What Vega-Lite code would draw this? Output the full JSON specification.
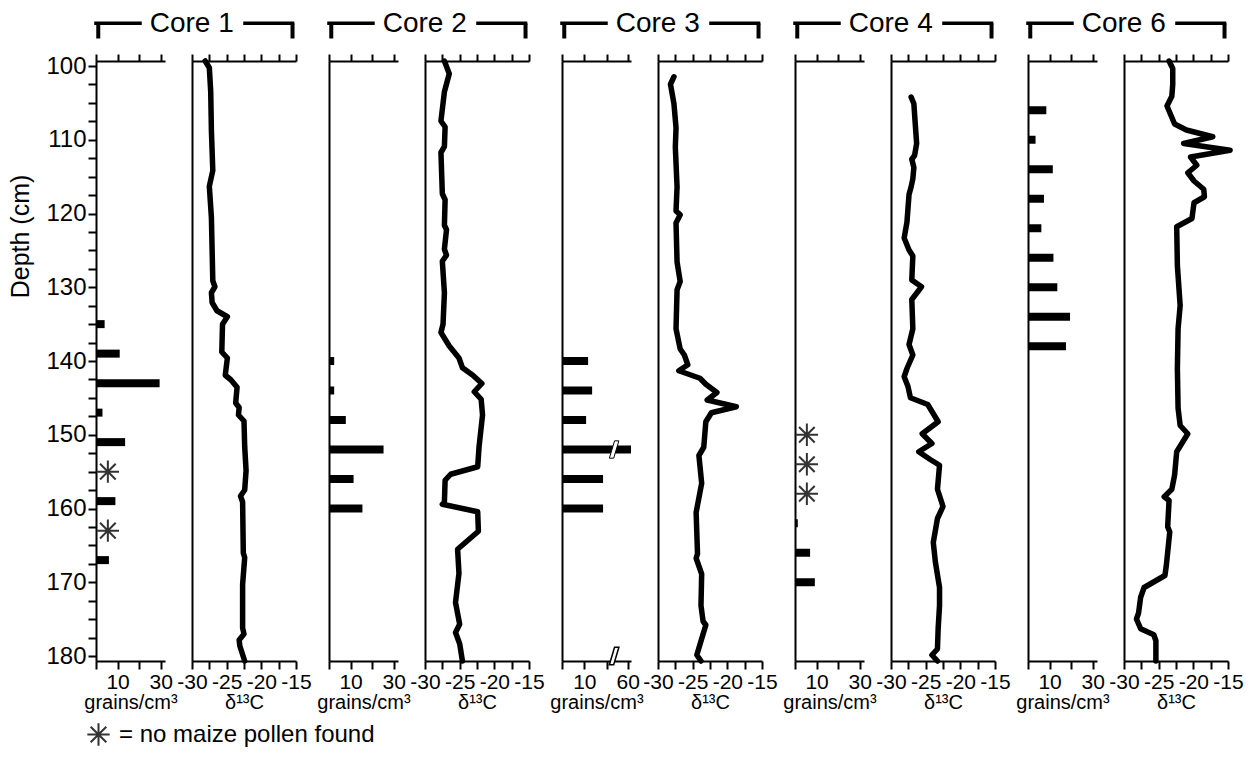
{
  "$schema": "https://vega.github.io/schema/vega-lite/v6.json",
  "background": "white",
  "padding": {"left": 8, "top": 10, "right": 5, "bottom": 5},
  "config": {
    "font": "Liberation Sans",
    "view": {"stroke": null},
    "axis": {"domainColor": "black", "domainWidth": 2, "tickColor": "black", "tickWidth": 2, "grid": false, "labelColor": "black", "titleColor": "black", "titleFontWeight": "normal", "labelFont": "Liberation Sans", "titleFont": "Liberation Sans"}
  },
  "datasets": {
    "pollen": [
      {"core": "Core 1", "depth": 135, "grains": 4},
      {"core": "Core 1", "depth": 139, "grains": 11},
      {"core": "Core 1", "depth": 143, "grains": 29.5},
      {"core": "Core 1", "depth": 147, "grains": 3},
      {"core": "Core 1", "depth": 151, "grains": 13.5},
      {"core": "Core 1", "depth": 155, "note": "no maize pollen found"},
      {"core": "Core 1", "depth": 159, "grains": 9},
      {"core": "Core 1", "depth": 163, "note": "no maize pollen found"},
      {"core": "Core 1", "depth": 167, "grains": 6},
      {"core": "Core 2", "depth": 140, "grains": 2.4},
      {"core": "Core 2", "depth": 144, "grains": 2.4},
      {"core": "Core 2", "depth": 148, "grains": 7.8},
      {"core": "Core 2", "depth": 152, "grains": 25.3},
      {"core": "Core 2", "depth": 156, "grains": 11.4},
      {"core": "Core 2", "depth": 160, "grains": 15.5},
      {"core": "Core 3", "depth": 140, "grains": 11.7},
      {"core": "Core 3", "depth": 144, "grains": 13.5},
      {"core": "Core 3", "depth": 148, "grains": 10.8},
      {"core": "Core 3", "depth": 152, "grains": 61.5},
      {"core": "Core 3", "depth": 156, "grains": 18.4},
      {"core": "Core 3", "depth": 160, "grains": 18.4},
      {"core": "Core 4", "depth": 150, "note": "no maize pollen found"},
      {"core": "Core 4", "depth": 154, "note": "no maize pollen found"},
      {"core": "Core 4", "depth": 158, "note": "no maize pollen found"},
      {"core": "Core 4", "depth": 162, "grains": 1.3},
      {"core": "Core 4", "depth": 166, "grains": 7},
      {"core": "Core 4", "depth": 170, "grains": 9.2},
      {"core": "Core 6", "depth": 106, "grains": 8.5},
      {"core": "Core 6", "depth": 110, "grains": 3.5},
      {"core": "Core 6", "depth": 114, "grains": 11.5},
      {"core": "Core 6", "depth": 118, "grains": 7.4},
      {"core": "Core 6", "depth": 122, "grains": 6.2},
      {"core": "Core 6", "depth": 126, "grains": 11.8},
      {"core": "Core 6", "depth": 130, "grains": 13.6},
      {"core": "Core 6", "depth": 134, "grains": 19.5},
      {"core": "Core 6", "depth": 138, "grains": 17.6}
    ],
    "d13c": [
      {"core": "Core 1", "depth": 100, "d13c": -28.1},
      {"core": "Core 1", "depth": 100.9, "d13c": -27.5},
      {"core": "Core 1", "depth": 104.1, "d13c": -27.3},
      {"core": "Core 1", "depth": 109.3, "d13c": -27.2},
      {"core": "Core 1", "depth": 114.6, "d13c": -27.0},
      {"core": "Core 1", "depth": 116.7, "d13c": -27.5},
      {"core": "Core 1", "depth": 120.9, "d13c": -27.2},
      {"core": "Core 1", "depth": 125.1, "d13c": -27.1},
      {"core": "Core 1", "depth": 129.3, "d13c": -27.0},
      {"core": "Core 1", "depth": 130.1, "d13c": -26.7},
      {"core": "Core 1", "depth": 130.9, "d13c": -27.2},
      {"core": "Core 1", "depth": 132.2, "d13c": -27.1},
      {"core": "Core 1", "depth": 133.3, "d13c": -26.4},
      {"core": "Core 1", "depth": 134.1, "d13c": -24.9},
      {"core": "Core 1", "depth": 135.1, "d13c": -25.6},
      {"core": "Core 1", "depth": 138.8, "d13c": -25.7},
      {"core": "Core 1", "depth": 139.6, "d13c": -24.9},
      {"core": "Core 1", "depth": 141.9, "d13c": -25.2},
      {"core": "Core 1", "depth": 142.5, "d13c": -24.4},
      {"core": "Core 1", "depth": 143.5, "d13c": -23.5},
      {"core": "Core 1", "depth": 145.6, "d13c": -23.7},
      {"core": "Core 1", "depth": 146.2, "d13c": -23.2},
      {"core": "Core 1", "depth": 147.2, "d13c": -23.3},
      {"core": "Core 1", "depth": 148.0, "d13c": -22.5},
      {"core": "Core 1", "depth": 151.4, "d13c": -22.4},
      {"core": "Core 1", "depth": 154.6, "d13c": -22.2},
      {"core": "Core 1", "depth": 157.2, "d13c": -22.4},
      {"core": "Core 1", "depth": 158.0, "d13c": -23.0},
      {"core": "Core 1", "depth": 158.8, "d13c": -22.7},
      {"core": "Core 1", "depth": 165.6, "d13c": -22.6},
      {"core": "Core 1", "depth": 166.2, "d13c": -22.4},
      {"core": "Core 1", "depth": 169.8, "d13c": -22.7},
      {"core": "Core 1", "depth": 175.6, "d13c": -22.7},
      {"core": "Core 1", "depth": 176.4, "d13c": -22.5},
      {"core": "Core 1", "depth": 177.2, "d13c": -23.2},
      {"core": "Core 1", "depth": 178.0, "d13c": -23.1},
      {"core": "Core 1", "depth": 180, "d13c": -22.4},
      {"core": "Core 2", "depth": 100, "d13c": -27.2},
      {"core": "Core 2", "depth": 101.7, "d13c": -26.5},
      {"core": "Core 2", "depth": 104.1, "d13c": -27.2},
      {"core": "Core 2", "depth": 108.0, "d13c": -27.7},
      {"core": "Core 2", "depth": 108.8, "d13c": -27.1},
      {"core": "Core 2", "depth": 111.4, "d13c": -27.2},
      {"core": "Core 2", "depth": 112.2, "d13c": -27.7},
      {"core": "Core 2", "depth": 117.7, "d13c": -27.5},
      {"core": "Core 2", "depth": 118.5, "d13c": -27.1},
      {"core": "Core 2", "depth": 121.9, "d13c": -27.2},
      {"core": "Core 2", "depth": 122.5, "d13c": -26.9},
      {"core": "Core 2", "depth": 125.1, "d13c": -27.2},
      {"core": "Core 2", "depth": 125.9, "d13c": -26.9},
      {"core": "Core 2", "depth": 126.7, "d13c": -27.5},
      {"core": "Core 2", "depth": 130.9, "d13c": -27.2},
      {"core": "Core 2", "depth": 135.1, "d13c": -27.4},
      {"core": "Core 2", "depth": 136.2, "d13c": -27.7},
      {"core": "Core 2", "depth": 138.0, "d13c": -26.5},
      {"core": "Core 2", "depth": 139.6, "d13c": -25.1},
      {"core": "Core 2", "depth": 140.9, "d13c": -24.6},
      {"core": "Core 2", "depth": 141.9, "d13c": -23.1},
      {"core": "Core 2", "depth": 143.0, "d13c": -21.8},
      {"core": "Core 2", "depth": 144.1, "d13c": -22.9},
      {"core": "Core 2", "depth": 145.1, "d13c": -21.9},
      {"core": "Core 2", "depth": 147.2, "d13c": -21.7},
      {"core": "Core 2", "depth": 151.4, "d13c": -22.2},
      {"core": "Core 2", "depth": 154.1, "d13c": -22.4},
      {"core": "Core 2", "depth": 155.1, "d13c": -26.3},
      {"core": "Core 2", "depth": 155.9, "d13c": -27.1},
      {"core": "Core 2", "depth": 158.8, "d13c": -27.2},
      {"core": "Core 2", "depth": 159.1, "d13c": -27.5},
      {"core": "Core 2", "depth": 160.1, "d13c": -22.4},
      {"core": "Core 2", "depth": 162.7, "d13c": -22.3},
      {"core": "Core 2", "depth": 165.1, "d13c": -25.3},
      {"core": "Core 2", "depth": 168.3, "d13c": -25.1},
      {"core": "Core 2", "depth": 172.2, "d13c": -25.6},
      {"core": "Core 2", "depth": 175.1, "d13c": -25.0},
      {"core": "Core 2", "depth": 176.2, "d13c": -25.6},
      {"core": "Core 2", "depth": 177.7, "d13c": -25.0},
      {"core": "Core 2", "depth": 180, "d13c": -24.6},
      {"core": "Core 3", "depth": 102.1, "d13c": -27.7},
      {"core": "Core 3", "depth": 103.1, "d13c": -28.2},
      {"core": "Core 3", "depth": 105.7, "d13c": -27.7},
      {"core": "Core 3", "depth": 108.9, "d13c": -27.4},
      {"core": "Core 3", "depth": 111.5, "d13c": -27.5},
      {"core": "Core 3", "depth": 116.8, "d13c": -27.25},
      {"core": "Core 3", "depth": 120.0, "d13c": -27.4},
      {"core": "Core 3", "depth": 120.5, "d13c": -26.8},
      {"core": "Core 3", "depth": 121.6, "d13c": -27.4},
      {"core": "Core 3", "depth": 126.8, "d13c": -27.25},
      {"core": "Core 3", "depth": 129.4, "d13c": -26.8},
      {"core": "Core 3", "depth": 130.5, "d13c": -27.25},
      {"core": "Core 3", "depth": 135.7, "d13c": -27.4},
      {"core": "Core 3", "depth": 138.4, "d13c": -26.8},
      {"core": "Core 3", "depth": 139.2, "d13c": -26.2},
      {"core": "Core 3", "depth": 140.5, "d13c": -25.7},
      {"core": "Core 3", "depth": 141.3, "d13c": -27.0},
      {"core": "Core 3", "depth": 142.3, "d13c": -23.95},
      {"core": "Core 3", "depth": 143.1, "d13c": -23.1},
      {"core": "Core 3", "depth": 144.2, "d13c": -21.5},
      {"core": "Core 3", "depth": 145.2, "d13c": -22.9},
      {"core": "Core 3", "depth": 146.1, "d13c": -18.7},
      {"core": "Core 3", "depth": 146.9, "d13c": -22.3},
      {"core": "Core 3", "depth": 148.1, "d13c": -23.1},
      {"core": "Core 3", "depth": 151.5, "d13c": -23.4},
      {"core": "Core 3", "depth": 152.6, "d13c": -24.1},
      {"core": "Core 3", "depth": 156.3, "d13c": -23.7},
      {"core": "Core 3", "depth": 160.2, "d13c": -24.5},
      {"core": "Core 3", "depth": 165.7, "d13c": -24.3},
      {"core": "Core 3", "depth": 166.3, "d13c": -24.5},
      {"core": "Core 3", "depth": 168.4, "d13c": -23.7},
      {"core": "Core 3", "depth": 172.6, "d13c": -23.8},
      {"core": "Core 3", "depth": 174.7, "d13c": -23.5},
      {"core": "Core 3", "depth": 175.2, "d13c": -23.1},
      {"core": "Core 3", "depth": 177.8, "d13c": -23.95},
      {"core": "Core 3", "depth": 179.2, "d13c": -24.4},
      {"core": "Core 3", "depth": 180, "d13c": -23.8},
      {"core": "Core 4", "depth": 104.8, "d13c": -27.1},
      {"core": "Core 4", "depth": 105.7, "d13c": -26.7},
      {"core": "Core 4", "depth": 108.4, "d13c": -26.5},
      {"core": "Core 4", "depth": 111.0, "d13c": -26.3},
      {"core": "Core 4", "depth": 112.6, "d13c": -26.6},
      {"core": "Core 4", "depth": 113.1, "d13c": -27.0},
      {"core": "Core 4", "depth": 114.2, "d13c": -26.7},
      {"core": "Core 4", "depth": 115.7, "d13c": -26.85},
      {"core": "Core 4", "depth": 116.8, "d13c": -27.1},
      {"core": "Core 4", "depth": 117.8, "d13c": -27.4},
      {"core": "Core 4", "depth": 121.5, "d13c": -27.7},
      {"core": "Core 4", "depth": 123.6, "d13c": -28.1},
      {"core": "Core 4", "depth": 125.2, "d13c": -27.4},
      {"core": "Core 4", "depth": 126.0, "d13c": -26.85},
      {"core": "Core 4", "depth": 129.2, "d13c": -27.0},
      {"core": "Core 4", "depth": 130.1, "d13c": -25.6},
      {"core": "Core 4", "depth": 131.8, "d13c": -27.0},
      {"core": "Core 4", "depth": 135.7, "d13c": -26.85},
      {"core": "Core 4", "depth": 137.8, "d13c": -27.4},
      {"core": "Core 4", "depth": 139.2, "d13c": -26.85},
      {"core": "Core 4", "depth": 141.0, "d13c": -27.7},
      {"core": "Core 4", "depth": 142.1, "d13c": -28.1},
      {"core": "Core 4", "depth": 143.4, "d13c": -27.55},
      {"core": "Core 4", "depth": 144.9, "d13c": -27.2},
      {"core": "Core 4", "depth": 145.8, "d13c": -24.7},
      {"core": "Core 4", "depth": 148.1, "d13c": -23.2},
      {"core": "Core 4", "depth": 149.7, "d13c": -25.5},
      {"core": "Core 4", "depth": 151.0, "d13c": -24.1},
      {"core": "Core 4", "depth": 152.1, "d13c": -26.0},
      {"core": "Core 4", "depth": 153.1, "d13c": -24.4},
      {"core": "Core 4", "depth": 153.9, "d13c": -23.0},
      {"core": "Core 4", "depth": 157.1, "d13c": -23.3},
      {"core": "Core 4", "depth": 159.4, "d13c": -22.5},
      {"core": "Core 4", "depth": 161.0, "d13c": -23.3},
      {"core": "Core 4", "depth": 164.2, "d13c": -23.9},
      {"core": "Core 4", "depth": 166.8, "d13c": -23.6},
      {"core": "Core 4", "depth": 170.2, "d13c": -23.0},
      {"core": "Core 4", "depth": 172.6, "d13c": -23.0},
      {"core": "Core 4", "depth": 175.7, "d13c": -23.2},
      {"core": "Core 4", "depth": 178.4, "d13c": -23.3},
      {"core": "Core 4", "depth": 179.2, "d13c": -24.1},
      {"core": "Core 4", "depth": 180, "d13c": -23.3},
      {"core": "Core 6", "depth": 100, "d13c": -23.5},
      {"core": "Core 6", "depth": 101.0, "d13c": -22.97},
      {"core": "Core 6", "depth": 103.1, "d13c": -22.97},
      {"core": "Core 6", "depth": 104.7, "d13c": -23.1},
      {"core": "Core 6", "depth": 106.0, "d13c": -23.8},
      {"core": "Core 6", "depth": 108.4, "d13c": -22.7},
      {"core": "Core 6", "depth": 109.2, "d13c": -21.0},
      {"core": "Core 6", "depth": 110.1, "d13c": -17.2},
      {"core": "Core 6", "depth": 111.0, "d13c": -21.4},
      {"core": "Core 6", "depth": 111.9, "d13c": -14.7},
      {"core": "Core 6", "depth": 112.8, "d13c": -20.4},
      {"core": "Core 6", "depth": 113.9, "d13c": -19.5},
      {"core": "Core 6", "depth": 114.9, "d13c": -20.8},
      {"core": "Core 6", "depth": 116.0, "d13c": -19.9},
      {"core": "Core 6", "depth": 117.1, "d13c": -18.5},
      {"core": "Core 6", "depth": 118.1, "d13c": -18.4},
      {"core": "Core 6", "depth": 118.9, "d13c": -19.9},
      {"core": "Core 6", "depth": 121.0, "d13c": -20.2},
      {"core": "Core 6", "depth": 122.1, "d13c": -22.4},
      {"core": "Core 6", "depth": 127.3, "d13c": -22.3},
      {"core": "Core 6", "depth": 132.6, "d13c": -21.9},
      {"core": "Core 6", "depth": 135.7, "d13c": -22.2},
      {"core": "Core 6", "depth": 141.0, "d13c": -22.3},
      {"core": "Core 6", "depth": 146.3, "d13c": -22.2},
      {"core": "Core 6", "depth": 148.6, "d13c": -21.9},
      {"core": "Core 6", "depth": 149.7, "d13c": -20.8},
      {"core": "Core 6", "depth": 152.1, "d13c": -22.4},
      {"core": "Core 6", "depth": 155.2, "d13c": -22.7},
      {"core": "Core 6", "depth": 157.1, "d13c": -23.1},
      {"core": "Core 6", "depth": 158.1, "d13c": -24.2},
      {"core": "Core 6", "depth": 158.6, "d13c": -23.5},
      {"core": "Core 6", "depth": 162.1, "d13c": -23.7},
      {"core": "Core 6", "depth": 162.8, "d13c": -23.4},
      {"core": "Core 6", "depth": 167.3, "d13c": -23.9},
      {"core": "Core 6", "depth": 168.6, "d13c": -24.1},
      {"core": "Core 6", "depth": 170.2, "d13c": -27.1},
      {"core": "Core 6", "depth": 171.5, "d13c": -27.6},
      {"core": "Core 6", "depth": 173.6, "d13c": -27.9},
      {"core": "Core 6", "depth": 174.4, "d13c": -28.2},
      {"core": "Core 6", "depth": 175.7, "d13c": -27.6},
      {"core": "Core 6", "depth": 176.5, "d13c": -25.7},
      {"core": "Core 6", "depth": 177.3, "d13c": -25.4},
      {"core": "Core 6", "depth": 180, "d13c": -25.4}
    ]
  },
  "bounds": "flush",
  "spacing": 27,
  "hconcat": [
    {
      "width": 69, "height": 600,
      "layer": [
        {"data": {"name": "pollen"}, "transform": [{"filter": "datum.core === 'Core 1' && isValid(datum.grains)"}],
         "mark": {"type": "bar", "orient": "horizontal", "size": 8, "color": "black"},
         "encoding": {
           "x": {"field": "grains", "type": "quantitative", "scale": {"domain": [0, 32], "nice": false}, "axis": {"orient": "bottom", "values": [0, 10, 20, 30], "labelExpr": "datum.value == 10 || datum.value == 30 ? '' + datum.value : ''", "labelFontSize": 21, "labelFlush": false, "labelOverlap": false, "tickSize": 8, "labelPadding": 2, "title": "grains/cm³", "titleFontSize": 20, "titlePadding": 0}},
           "y": {"field": "depth", "type": "quantitative", "scale": {"domain": [100, 180], "reverse": true, "nice": false, "zero": false}, "axis": {"values": [100,102.5,105,107.5,110,112.5,115,117.5,120,122.5,125,127.5,130,132.5,135,137.5,140,142.5,145,147.5,150,152.5,155,157.5,160,162.5,165,167.5,170,172.5,175,177.5,180], "labelExpr": "datum.value % 10 === 0 ? '' + datum.value : ''", "labelFontSize": 24, "labelOverlap": false, "tickSize": 8, "labelPadding": 2, "title": "Depth (cm)", "titleFontSize": 25, "titleX": -63, "titleY": 175, "titleAngle": -90}}
         }},
        {"data": {"name": "pollen"}, "transform": [{"filter": "datum.core === 'Core 1' && isValid(datum.note)"}],
         "mark": {"type": "point", "filled": false, "stroke": "#333333", "strokeWidth": 2, "size": 500, "opacity": 1},
         "encoding": {
           "x": {"datum": 5.5, "type": "quantitative", "axis": null},
           "y": {"field": "depth", "type": "quantitative", "axis": {"values": [100,102.5,105,107.5,110,112.5,115,117.5,120,122.5,125,127.5,130,132.5,135,137.5,140,142.5,145,147.5,150,152.5,155,157.5,160,162.5,165,167.5,170,172.5,175,177.5,180], "labelExpr": "datum.value % 10 === 0 ? '' + datum.value : ''", "labelFontSize": 24, "labelOverlap": false, "tickSize": 8, "labelPadding": 2, "title": "Depth (cm)", "titleFontSize": 25, "titleX": -63, "titleY": 175, "titleAngle": -90}},
           "shape": {"field": "note", "type": "nominal", "scale": {"range": ["M-1,0L1,0M0,-1L0,1M-0.7,-0.7L0.7,0.7M-0.7,0.7L0.7,-0.7"]}, "legend": {"orient": "none", "legendX": -10, "legendY": 661, "title": null, "labelExpr": "'= ' + datum.label", "labelFontSize": 24, "labelLimit": 500, "labelColor": "black", "symbolSize": 500, "symbolStrokeWidth": 2, "symbolStrokeColor": "#333333", "symbolFillColor": "transparent", "labelOffset": 8}}
         }},
        {"data": {"values": [{}]}, "mark": {"type": "rule", "strokeOpacity": 0}, "encoding": {"x": {"datum": 0, "type": "quantitative", "axis": {"orient": "top", "values": [0, 10, 20, 30], "labels": false, "title": null, "tickSize": 7}}}}
      ],
      "resolve": {"axis": {"x": "independent"}}
    },
    {
      "width": 109.5, "height": 600,
      "layer": [
        {"data": {"name": "d13c"}, "transform": [{"filter": "datum.core === 'Core 1'"}],
         "mark": {"type": "line", "color": "black", "strokeWidth": 5.5, "strokeJoin": "round", "strokeCap": "round"},
         "encoding": {
           "x": {"field": "d13c", "type": "quantitative", "scale": {"domain": [-30, -15], "range": [0, 104], "nice": false, "zero": false}, "axis": {"orient": "bottom", "values": [-30, -27.5, -25, -22.5, -20, -17.5, -15], "labelExpr": "datum.value % 5 === 0 ? '' + datum.value : ''", "labelFontSize": 21, "labelFlush": false, "labelOverlap": false, "tickSize": 8, "labelPadding": 2, "title": "δ¹³C", "titleFontSize": 20, "titlePadding": 0}},
           "y": {"field": "depth", "type": "quantitative", "scale": {"domain": [100, 180], "reverse": true, "nice": false, "zero": false}, "axis": {"ticks": false, "labels": false, "title": null}},
           "order": {"field": "depth", "type": "quantitative"}
         }},
        {"data": {"values": [{}]}, "mark": {"type": "rule", "strokeOpacity": 0}, "encoding": {"x": {"datum": -30, "type": "quantitative", "axis": {"orient": "top", "values": [-30, -27.5, -25, -22.5, -20, -17.5, -15], "labels": false, "title": null, "tickSize": 7}}}},
        {"data": {"values": [{}]}, "mark": {"type": "rule", "strokeWidth": 3.5, "color": "black", "strokeCap": "square"}, "encoding": {"x": {"datum": -43.85, "type": "quantitative", "axis": null}, "x2": {"datum": -37.5}, "y": {"datum": 94.97, "type": "quantitative", "axis": {"ticks": false, "labels": false, "title": null}}}},
        {"data": {"values": [{}]}, "mark": {"type": "rule", "strokeWidth": 3.5, "color": "black", "strokeCap": "square"}, "encoding": {"x": {"datum": -22.36, "type": "quantitative", "axis": null}, "x2": {"datum": -15.5}, "y": {"datum": 94.97, "type": "quantitative", "axis": {"ticks": false, "labels": false, "title": null}}}},
        {"data": {"values": [{}]}, "mark": {"type": "rule", "strokeWidth": 4, "color": "black"}, "encoding": {"x": {"datum": -43.52, "type": "quantitative", "axis": null}, "y": {"datum": 94.97, "type": "quantitative", "axis": {"ticks": false, "labels": false, "title": null}}, "y2": {"datum": 97.0}}},
        {"data": {"values": [{}]}, "mark": {"type": "rule", "strokeWidth": 4, "color": "black"}, "encoding": {"x": {"datum": -15.5, "type": "quantitative", "axis": null}, "y": {"datum": 94.97, "type": "quantitative", "axis": {"ticks": false, "labels": false, "title": null}}, "y2": {"datum": 97.0}}},
        {"data": {"values": [{}]}, "mark": {"type": "text", "fontSize": 28, "baseline": "alphabetic", "align": "center", "color": "black"}, "encoding": {"x": {"datum": -30.04, "type": "quantitative", "axis": null}, "y": {"datum": 96.15, "type": "quantitative", "axis": {"ticks": false, "labels": false, "title": null}}, "text": {"value": "Core 1"}}}
      ],
      "resolve": {"axis": {"x": "independent"}}
    },
    {
      "width": 69, "height": 600,
      "layer": [
        {"data": {"name": "pollen"}, "transform": [{"filter": "datum.core === 'Core 2' && isValid(datum.grains)"}],
         "mark": {"type": "bar", "orient": "horizontal", "size": 8, "color": "black"},
         "encoding": {
           "x": {"field": "grains", "type": "quantitative", "scale": {"domain": [0, 32], "nice": false}, "axis": {"orient": "bottom", "values": [0, 10, 20, 30], "labelExpr": "datum.value == 10 || datum.value == 30 ? '' + datum.value : ''", "labelFontSize": 21, "labelFlush": false, "labelOverlap": false, "tickSize": 8, "labelPadding": 2, "title": "grains/cm³", "titleFontSize": 20, "titlePadding": 0}},
           "y": {"field": "depth", "type": "quantitative", "scale": {"domain": [100, 180], "reverse": true, "nice": false, "zero": false}, "axis": {"ticks": false, "labels": false, "title": null}}
         }},
        {"data": {"values": [{}]}, "mark": {"type": "rule", "strokeOpacity": 0}, "encoding": {"x": {"datum": 0, "type": "quantitative", "axis": {"orient": "top", "values": [0, 10, 20, 30], "labels": false, "title": null, "tickSize": 7}}}}
      ],
      "resolve": {"axis": {"x": "independent"}}
    },
    {
      "width": 109.5, "height": 600,
      "layer": [
        {"data": {"name": "d13c"}, "transform": [{"filter": "datum.core === 'Core 2'"}],
         "mark": {"type": "line", "color": "black", "strokeWidth": 5.5, "strokeJoin": "round", "strokeCap": "round"},
         "encoding": {
           "x": {"field": "d13c", "type": "quantitative", "scale": {"domain": [-30, -15], "range": [0, 104], "nice": false, "zero": false}, "axis": {"orient": "bottom", "values": [-30, -27.5, -25, -22.5, -20, -17.5, -15], "labelExpr": "datum.value % 5 === 0 ? '' + datum.value : ''", "labelFontSize": 21, "labelFlush": false, "labelOverlap": false, "tickSize": 8, "labelPadding": 2, "title": "δ¹³C", "titleFontSize": 20, "titlePadding": 0}},
           "y": {"field": "depth", "type": "quantitative", "scale": {"domain": [100, 180], "reverse": true, "nice": false, "zero": false}, "axis": {"ticks": false, "labels": false, "title": null}},
           "order": {"field": "depth", "type": "quantitative"}
         }},
        {"data": {"values": [{}]}, "mark": {"type": "rule", "strokeOpacity": 0}, "encoding": {"x": {"datum": -30, "type": "quantitative", "axis": {"orient": "top", "values": [-30, -27.5, -25, -22.5, -20, -17.5, -15], "labels": false, "title": null, "tickSize": 7}}}},
        {"data": {"values": [{}]}, "mark": {"type": "rule", "strokeWidth": 3.5, "color": "black", "strokeCap": "square"}, "encoding": {"x": {"datum": -43.85, "type": "quantitative", "axis": null}, "x2": {"datum": -37.5}, "y": {"datum": 94.97, "type": "quantitative", "axis": {"ticks": false, "labels": false, "title": null}}}},
        {"data": {"values": [{}]}, "mark": {"type": "rule", "strokeWidth": 3.5, "color": "black", "strokeCap": "square"}, "encoding": {"x": {"datum": -22.36, "type": "quantitative", "axis": null}, "x2": {"datum": -15.5}, "y": {"datum": 94.97, "type": "quantitative", "axis": {"ticks": false, "labels": false, "title": null}}}},
        {"data": {"values": [{}]}, "mark": {"type": "rule", "strokeWidth": 4, "color": "black"}, "encoding": {"x": {"datum": -43.52, "type": "quantitative", "axis": null}, "y": {"datum": 94.97, "type": "quantitative", "axis": {"ticks": false, "labels": false, "title": null}}, "y2": {"datum": 97.0}}},
        {"data": {"values": [{}]}, "mark": {"type": "rule", "strokeWidth": 4, "color": "black"}, "encoding": {"x": {"datum": -15.5, "type": "quantitative", "axis": null}, "y": {"datum": 94.97, "type": "quantitative", "axis": {"ticks": false, "labels": false, "title": null}}, "y2": {"datum": 97.0}}},
        {"data": {"values": [{}]}, "mark": {"type": "text", "fontSize": 28, "baseline": "alphabetic", "align": "center", "color": "black"}, "encoding": {"x": {"datum": -30.04, "type": "quantitative", "axis": null}, "y": {"datum": 96.15, "type": "quantitative", "axis": {"ticks": false, "labels": false, "title": null}}, "text": {"value": "Core 2"}}}
      ],
      "resolve": {"axis": {"x": "independent"}}
    },
    {
      "width": 69, "height": 600,
      "layer": [
        {"data": {"name": "pollen"}, "transform": [{"filter": "datum.core === 'Core 3' && isValid(datum.grains)"}],
         "mark": {"type": "bar", "orient": "horizontal", "size": 8, "color": "black"},
         "encoding": {
           "x": {"field": "grains", "type": "quantitative", "scale": {"domain": [0, 23.3, 56.5, 61.5], "range": [0, 52, 58, 69], "nice": false, "zero": false}, "axis": {"orient": "bottom", "values": [0, 10, 20, 60], "labelExpr": "datum.value == 10 || datum.value == 60 ? '' + datum.value : ''", "labelFontSize": 21, "labelFlush": false, "labelOverlap": false, "tickSize": 8, "labelPadding": 2, "title": "grains/cm³", "titleFontSize": 20, "titlePadding": 0}},
           "y": {"field": "depth", "type": "quantitative", "scale": {"domain": [100, 180], "reverse": true, "nice": false, "zero": false}, "axis": {"ticks": false, "labels": false, "title": null}}
         }},
        {"data": {"values": [{}]}, "mark": {"type": "rule", "strokeOpacity": 0}, "encoding": {"x": {"datum": 0, "type": "quantitative", "axis": {"orient": "top", "values": [0, 10, 20, 60], "labels": false, "title": null, "tickSize": 7}}}},
        {"data": {"values": [{}]}, "mark": {"type": "point", "shape": "M-0.55,1L0.05,-1L0.55,-1L-0.05,1Z", "size": 300, "filled": true, "fill": "white", "stroke": "black", "strokeWidth": 1, "opacity": 1}, "encoding": {"x": {"datum": 24, "type": "quantitative", "axis": null}, "y": {"datum": 152, "type": "quantitative", "axis": {"ticks": false, "labels": false, "title": null}}}},
        {"data": {"values": [{}]}, "mark": {"type": "point", "shape": "M-0.55,1L0.05,-1L0.55,-1L-0.05,1Z", "size": 300, "filled": true, "fill": "white", "stroke": "black", "strokeWidth": 1.5, "opacity": 1}, "encoding": {"x": {"datum": 24, "type": "quantitative", "axis": null}, "y": {"datum": 180, "type": "quantitative", "axis": {"ticks": false, "labels": false, "title": null}}}}
      ],
      "resolve": {"axis": {"x": "independent"}}
    },
    {
      "width": 109.5, "height": 600,
      "layer": [
        {"data": {"name": "d13c"}, "transform": [{"filter": "datum.core === 'Core 3'"}],
         "mark": {"type": "line", "color": "black", "strokeWidth": 5.5, "strokeJoin": "round", "strokeCap": "round"},
         "encoding": {
           "x": {"field": "d13c", "type": "quantitative", "scale": {"domain": [-30, -15], "range": [0, 104], "nice": false, "zero": false}, "axis": {"orient": "bottom", "values": [-30, -27.5, -25, -22.5, -20, -17.5, -15], "labelExpr": "datum.value % 5 === 0 ? '' + datum.value : ''", "labelFontSize": 21, "labelFlush": false, "labelOverlap": false, "tickSize": 8, "labelPadding": 2, "title": "δ¹³C", "titleFontSize": 20, "titlePadding": 0}},
           "y": {"field": "depth", "type": "quantitative", "scale": {"domain": [100, 180], "reverse": true, "nice": false, "zero": false}, "axis": {"ticks": false, "labels": false, "title": null}},
           "order": {"field": "depth", "type": "quantitative"}
         }},
        {"data": {"values": [{}]}, "mark": {"type": "rule", "strokeOpacity": 0}, "encoding": {"x": {"datum": -30, "type": "quantitative", "axis": {"orient": "top", "values": [-30, -27.5, -25, -22.5, -20, -17.5, -15], "labels": false, "title": null, "tickSize": 7}}}},
        {"data": {"values": [{}]}, "mark": {"type": "rule", "strokeWidth": 3.5, "color": "black", "strokeCap": "square"}, "encoding": {"x": {"datum": -43.85, "type": "quantitative", "axis": null}, "x2": {"datum": -37.5}, "y": {"datum": 94.97, "type": "quantitative", "axis": {"ticks": false, "labels": false, "title": null}}}},
        {"data": {"values": [{}]}, "mark": {"type": "rule", "strokeWidth": 3.5, "color": "black", "strokeCap": "square"}, "encoding": {"x": {"datum": -22.36, "type": "quantitative", "axis": null}, "x2": {"datum": -15.5}, "y": {"datum": 94.97, "type": "quantitative", "axis": {"ticks": false, "labels": false, "title": null}}}},
        {"data": {"values": [{}]}, "mark": {"type": "rule", "strokeWidth": 4, "color": "black"}, "encoding": {"x": {"datum": -43.52, "type": "quantitative", "axis": null}, "y": {"datum": 94.97, "type": "quantitative", "axis": {"ticks": false, "labels": false, "title": null}}, "y2": {"datum": 97.0}}},
        {"data": {"values": [{}]}, "mark": {"type": "rule", "strokeWidth": 4, "color": "black"}, "encoding": {"x": {"datum": -15.5, "type": "quantitative", "axis": null}, "y": {"datum": 94.97, "type": "quantitative", "axis": {"ticks": false, "labels": false, "title": null}}, "y2": {"datum": 97.0}}},
        {"data": {"values": [{}]}, "mark": {"type": "text", "fontSize": 28, "baseline": "alphabetic", "align": "center", "color": "black"}, "encoding": {"x": {"datum": -30.04, "type": "quantitative", "axis": null}, "y": {"datum": 96.15, "type": "quantitative", "axis": {"ticks": false, "labels": false, "title": null}}, "text": {"value": "Core 3"}}}
      ],
      "resolve": {"axis": {"x": "independent"}}
    },
    {
      "width": 69, "height": 600,
      "layer": [
        {"data": {"name": "pollen"}, "transform": [{"filter": "datum.core === 'Core 4' && isValid(datum.grains)"}],
         "mark": {"type": "bar", "orient": "horizontal", "size": 8, "color": "black"},
         "encoding": {
           "x": {"field": "grains", "type": "quantitative", "scale": {"domain": [0, 32], "nice": false}, "axis": {"orient": "bottom", "values": [0, 10, 20, 30], "labelExpr": "datum.value == 10 || datum.value == 30 ? '' + datum.value : ''", "labelFontSize": 21, "labelFlush": false, "labelOverlap": false, "tickSize": 8, "labelPadding": 2, "title": "grains/cm³", "titleFontSize": 20, "titlePadding": 0}},
           "y": {"field": "depth", "type": "quantitative", "scale": {"domain": [100, 180], "reverse": true, "nice": false, "zero": false}, "axis": {"ticks": false, "labels": false, "title": null}}
         }},
        {"data": {"name": "pollen"}, "transform": [{"filter": "datum.core === 'Core 4' && isValid(datum.note)"}],
         "mark": {"type": "point", "filled": false, "stroke": "#333333", "strokeWidth": 2, "size": 500, "opacity": 1},
         "encoding": {
           "x": {"datum": 5.5, "type": "quantitative", "axis": null},
           "y": {"field": "depth", "type": "quantitative", "axis": {"ticks": false, "labels": false, "title": null}},
           "shape": {"field": "note", "type": "nominal", "scale": {"range": ["M-1,0L1,0M0,-1L0,1M-0.7,-0.7L0.7,0.7M-0.7,0.7L0.7,-0.7"]}, "legend": {"orient": "none", "legendX": -10, "legendY": 661, "title": null, "labelExpr": "'= ' + datum.label", "labelFontSize": 24, "labelLimit": 500, "labelColor": "black", "symbolSize": 500, "symbolStrokeWidth": 2, "symbolStrokeColor": "#333333", "symbolFillColor": "transparent", "labelOffset": 8}}
         }},
        {"data": {"values": [{}]}, "mark": {"type": "rule", "strokeOpacity": 0}, "encoding": {"x": {"datum": 0, "type": "quantitative", "axis": {"orient": "top", "values": [0, 10, 20, 30], "labels": false, "title": null, "tickSize": 7}}}}
      ],
      "resolve": {"axis": {"x": "independent"}}
    },
    {
      "width": 109.5, "height": 600,
      "layer": [
        {"data": {"name": "d13c"}, "transform": [{"filter": "datum.core === 'Core 4'"}],
         "mark": {"type": "line", "color": "black", "strokeWidth": 5.5, "strokeJoin": "round", "strokeCap": "round"},
         "encoding": {
           "x": {"field": "d13c", "type": "quantitative", "scale": {"domain": [-30, -15], "range": [0, 104], "nice": false, "zero": false}, "axis": {"orient": "bottom", "values": [-30, -27.5, -25, -22.5, -20, -17.5, -15], "labelExpr": "datum.value % 5 === 0 ? '' + datum.value : ''", "labelFontSize": 21, "labelFlush": false, "labelOverlap": false, "tickSize": 8, "labelPadding": 2, "title": "δ¹³C", "titleFontSize": 20, "titlePadding": 0}},
           "y": {"field": "depth", "type": "quantitative", "scale": {"domain": [100, 180], "reverse": true, "nice": false, "zero": false}, "axis": {"ticks": false, "labels": false, "title": null}},
           "order": {"field": "depth", "type": "quantitative"}
         }},
        {"data": {"values": [{}]}, "mark": {"type": "rule", "strokeOpacity": 0}, "encoding": {"x": {"datum": -30, "type": "quantitative", "axis": {"orient": "top", "values": [-30, -27.5, -25, -22.5, -20, -17.5, -15], "labels": false, "title": null, "tickSize": 7}}}},
        {"data": {"values": [{}]}, "mark": {"type": "rule", "strokeWidth": 3.5, "color": "black", "strokeCap": "square"}, "encoding": {"x": {"datum": -43.85, "type": "quantitative", "axis": null}, "x2": {"datum": -37.5}, "y": {"datum": 94.97, "type": "quantitative", "axis": {"ticks": false, "labels": false, "title": null}}}},
        {"data": {"values": [{}]}, "mark": {"type": "rule", "strokeWidth": 3.5, "color": "black", "strokeCap": "square"}, "encoding": {"x": {"datum": -22.36, "type": "quantitative", "axis": null}, "x2": {"datum": -15.5}, "y": {"datum": 94.97, "type": "quantitative", "axis": {"ticks": false, "labels": false, "title": null}}}},
        {"data": {"values": [{}]}, "mark": {"type": "rule", "strokeWidth": 4, "color": "black"}, "encoding": {"x": {"datum": -43.52, "type": "quantitative", "axis": null}, "y": {"datum": 94.97, "type": "quantitative", "axis": {"ticks": false, "labels": false, "title": null}}, "y2": {"datum": 97.0}}},
        {"data": {"values": [{}]}, "mark": {"type": "rule", "strokeWidth": 4, "color": "black"}, "encoding": {"x": {"datum": -15.5, "type": "quantitative", "axis": null}, "y": {"datum": 94.97, "type": "quantitative", "axis": {"ticks": false, "labels": false, "title": null}}, "y2": {"datum": 97.0}}},
        {"data": {"values": [{}]}, "mark": {"type": "text", "fontSize": 28, "baseline": "alphabetic", "align": "center", "color": "black"}, "encoding": {"x": {"datum": -30.04, "type": "quantitative", "axis": null}, "y": {"datum": 96.15, "type": "quantitative", "axis": {"ticks": false, "labels": false, "title": null}}, "text": {"value": "Core 4"}}}
      ],
      "resolve": {"axis": {"x": "independent"}}
    },
    {
      "width": 69, "height": 600,
      "layer": [
        {"data": {"name": "pollen"}, "transform": [{"filter": "datum.core === 'Core 6' && isValid(datum.grains)"}],
         "mark": {"type": "bar", "orient": "horizontal", "size": 8, "color": "black"},
         "encoding": {
           "x": {"field": "grains", "type": "quantitative", "scale": {"domain": [0, 32], "nice": false}, "axis": {"orient": "bottom", "values": [0, 10, 20, 30], "labelExpr": "datum.value == 10 || datum.value == 30 ? '' + datum.value : ''", "labelFontSize": 21, "labelFlush": false, "labelOverlap": false, "tickSize": 8, "labelPadding": 2, "title": "grains/cm³", "titleFontSize": 20, "titlePadding": 0}},
           "y": {"field": "depth", "type": "quantitative", "scale": {"domain": [100, 180], "reverse": true, "nice": false, "zero": false}, "axis": {"ticks": false, "labels": false, "title": null}}
         }},
        {"data": {"values": [{}]}, "mark": {"type": "rule", "strokeOpacity": 0}, "encoding": {"x": {"datum": 0, "type": "quantitative", "axis": {"orient": "top", "values": [0, 10, 20, 30], "labels": false, "title": null, "tickSize": 7}}}}
      ],
      "resolve": {"axis": {"x": "independent"}}
    },
    {
      "width": 104, "height": 600,
      "layer": [
        {"data": {"name": "d13c"}, "transform": [{"filter": "datum.core === 'Core 6'"}],
         "mark": {"type": "line", "color": "black", "strokeWidth": 5.5, "strokeJoin": "round", "strokeCap": "round"},
         "encoding": {
           "x": {"field": "d13c", "type": "quantitative", "scale": {"domain": [-30, -15], "range": [0, 104], "nice": false, "zero": false}, "axis": {"orient": "bottom", "values": [-30, -27.5, -25, -22.5, -20, -17.5, -15], "labelExpr": "datum.value % 5 === 0 ? '' + datum.value : ''", "labelFontSize": 21, "labelFlush": false, "labelOverlap": false, "tickSize": 8, "labelPadding": 2, "title": "δ¹³C", "titleFontSize": 20, "titlePadding": 0}},
           "y": {"field": "depth", "type": "quantitative", "scale": {"domain": [100, 180], "reverse": true, "nice": false, "zero": false}, "axis": {"ticks": false, "labels": false, "title": null}},
           "order": {"field": "depth", "type": "quantitative"}
         }},
        {"data": {"values": [{}]}, "mark": {"type": "rule", "strokeOpacity": 0}, "encoding": {"x": {"datum": -30, "type": "quantitative", "axis": {"orient": "top", "values": [-30, -27.5, -25, -22.5, -20, -17.5, -15], "labels": false, "title": null, "tickSize": 7}}}},
        {"data": {"values": [{}]}, "mark": {"type": "rule", "strokeWidth": 3.5, "color": "black", "strokeCap": "square"}, "encoding": {"x": {"datum": -43.85, "type": "quantitative", "axis": null}, "x2": {"datum": -37.5}, "y": {"datum": 94.97, "type": "quantitative", "axis": {"ticks": false, "labels": false, "title": null}}}},
        {"data": {"values": [{}]}, "mark": {"type": "rule", "strokeWidth": 3.5, "color": "black", "strokeCap": "square"}, "encoding": {"x": {"datum": -22.36, "type": "quantitative", "axis": null}, "x2": {"datum": -15.5}, "y": {"datum": 94.97, "type": "quantitative", "axis": {"ticks": false, "labels": false, "title": null}}}},
        {"data": {"values": [{}]}, "mark": {"type": "rule", "strokeWidth": 4, "color": "black"}, "encoding": {"x": {"datum": -43.52, "type": "quantitative", "axis": null}, "y": {"datum": 94.97, "type": "quantitative", "axis": {"ticks": false, "labels": false, "title": null}}, "y2": {"datum": 97.0}}},
        {"data": {"values": [{}]}, "mark": {"type": "rule", "strokeWidth": 4, "color": "black"}, "encoding": {"x": {"datum": -15.5, "type": "quantitative", "axis": null}, "y": {"datum": 94.97, "type": "quantitative", "axis": {"ticks": false, "labels": false, "title": null}}, "y2": {"datum": 97.0}}},
        {"data": {"values": [{}]}, "mark": {"type": "text", "fontSize": 28, "baseline": "alphabetic", "align": "center", "color": "black"}, "encoding": {"x": {"datum": -30.04, "type": "quantitative", "axis": null}, "y": {"datum": 96.15, "type": "quantitative", "axis": {"ticks": false, "labels": false, "title": null}}, "text": {"value": "Core 6"}}}
      ],
      "resolve": {"axis": {"x": "independent"}}
    }
  ]
}
